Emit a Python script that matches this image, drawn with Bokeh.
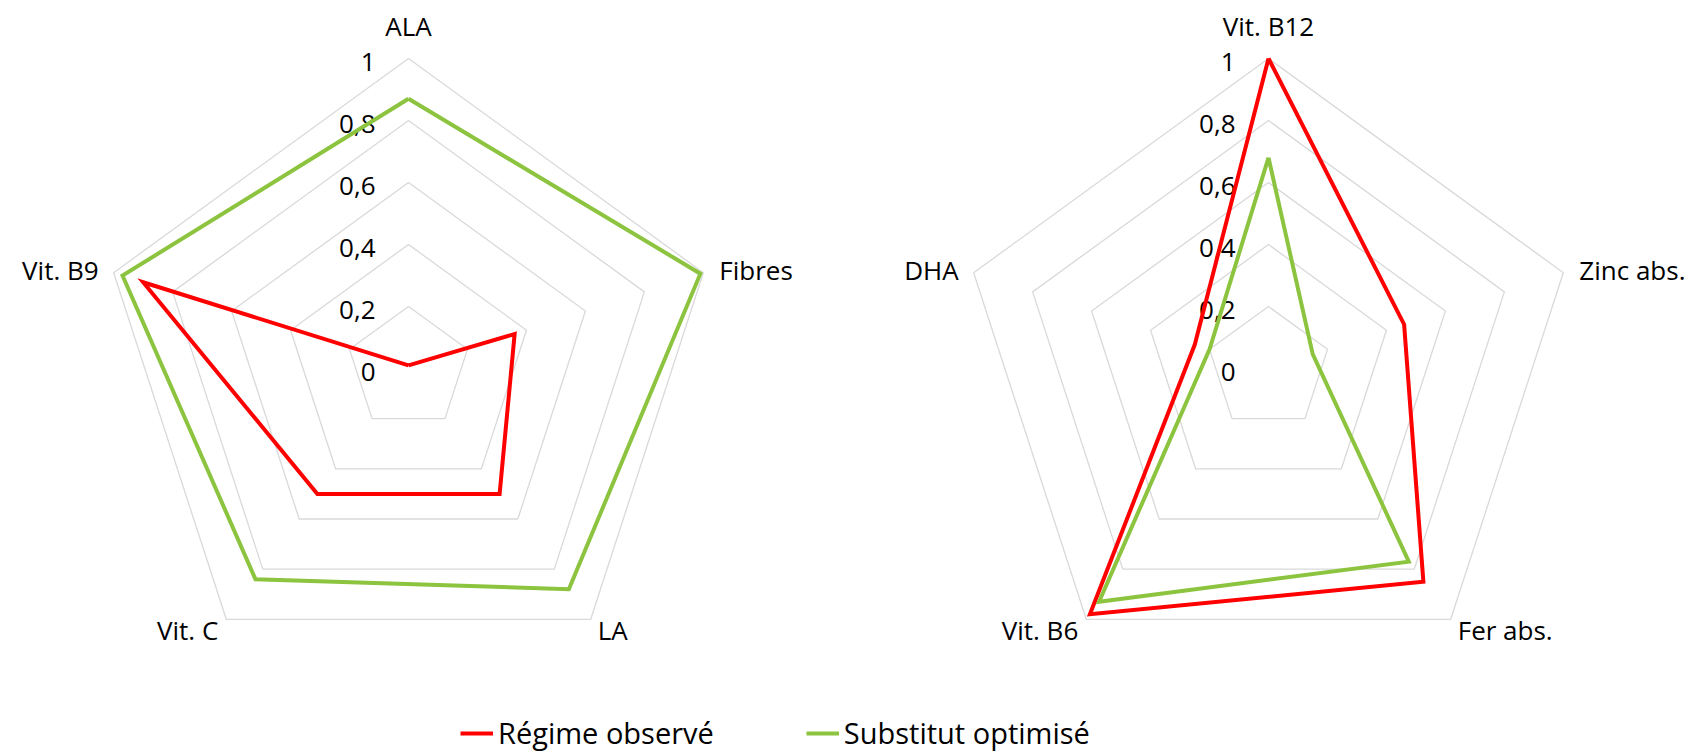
import numpy as np
from bokeh.plotting import figure
from bokeh.models import Range1d, Legend, LegendItem
from bokeh.core.properties import value
from bokeh.embed import file_html
from bokeh.resources import INLINE

# ---------------- data ----------------
left_cats = ["ALA", "Fibres", "LA", "Vit. C", "Vit. B9"]
left_obs = [0.01, 0.36, 0.50, 0.50, 0.90]
left_opt = [0.87, 0.99, 0.88, 0.84, 0.97]

right_cats = ["Vit. B12", "Zinc abs.", "Fer abs.", "Vit. B6", "DHA"]
right_obs = [1.00, 0.46, 0.85, 0.98, 0.25]
right_opt = [0.68, 0.15, 0.77, 0.93, 0.20]

tick_values = [0, 0.2, 0.4, 0.6, 0.8, 1.0]
tick_labels = ["0", "0,2", "0,4", "0,6", "0,8", "1"]

series_names = ["Régime observé", "Substitut optimisé"]
series_colors = ["#FF0000", "#8CC43F"]

# ---------------- layout ----------------
W, H = 1696, 751
R = 310.0
CY = H - 368
CENTERS = [408, 1268]
FONT = value("Open Sans")
GRID_COLOR = "#D9D9D9"

p = figure(width=W, height=H, output_backend="svg", toolbar_location=None,
           x_range=Range1d(0, W), y_range=Range1d(0, H), min_border=0)
p.axis.visible = False
p.grid.visible = False
p.outline_line_color = None
p.background_fill_color = "white"
p.border_fill_color = "white"

n = 5
angles = np.pi / 2 - np.arange(n) * 2 * np.pi / n


def pt(cx, v, k):
    return cx + R * v * np.cos(angles[k]), CY + R * v * np.sin(angles[k])


# label offsets (screen px) per vertex position: (dx, dy, align)
lab_off = [(0, 33, "center"), (16, 3, "left"), (7, -11, "left"),
           (-8, -11, "right"), (-15, 3, "right")]

renderers = {}
for ci, (cx, cats, obs, opt) in enumerate([
        (CENTERS[0], left_cats, left_obs, left_opt),
        (CENTERS[1], right_cats, right_obs, right_opt)]):
    # grid rings
    xs, ys = [], []
    for tv in tick_values[1:]:
        rx = [pt(cx, tv, k)[0] for k in range(n)] + [pt(cx, tv, 0)[0]]
        ry = [pt(cx, tv, k)[1] for k in range(n)] + [pt(cx, tv, 0)[1]]
        xs.append(rx)
        ys.append(ry)
    p.multi_line(xs, ys, line_color=GRID_COLOR, line_width=1.3)

    # tick labels
    p.text(x=[cx - 33] * len(tick_values),
           y=[CY + R * tv - 3 for tv in tick_values],
           text=tick_labels, text_font=FONT, text_font_size="26px",
           text_align="right", text_baseline="middle", text_color="#000000")

    # category labels
    for k, c in enumerate(cats):
        vx, vy = pt(cx, 1.0, k)
        dx, dy, al = lab_off[k]
        p.text(x=[vx + dx], y=[vy + dy], text=[c], text_font=FONT,
               text_font_size="26px", text_align=al, text_baseline="middle",
               text_color="#000000")

    # series
    for si, vals in enumerate([obs, opt]):
        px = [pt(cx, v, k)[0] for k, v in enumerate(vals)]
        py = [pt(cx, v, k)[1] for k, v in enumerate(vals)]
        px.append(px[0])
        py.append(py[0])
        r = p.line(px, py, line_color=series_colors[si], line_width=4,
                   line_join="miter")
        if ci == 0:
            renderers[si] = r

legend = Legend(items=[LegendItem(label=series_names[i], renderers=[renderers[i]])
                       for i in range(2)],
                orientation="horizontal", location=(460, -1))
legend.label_text_font = "Open Sans"
legend.label_text_font_size = "29px"
legend.label_text_color = "#000000"
legend.glyph_width = 33
legend.label_standoff = 5
legend.spacing = 92
legend.padding = 0
legend.margin = 0
legend.border_line_color = None
legend.background_fill_alpha = 0
p.add_layout(legend, "center")

open("out.html", "w").write(file_html(p, INLINE))
